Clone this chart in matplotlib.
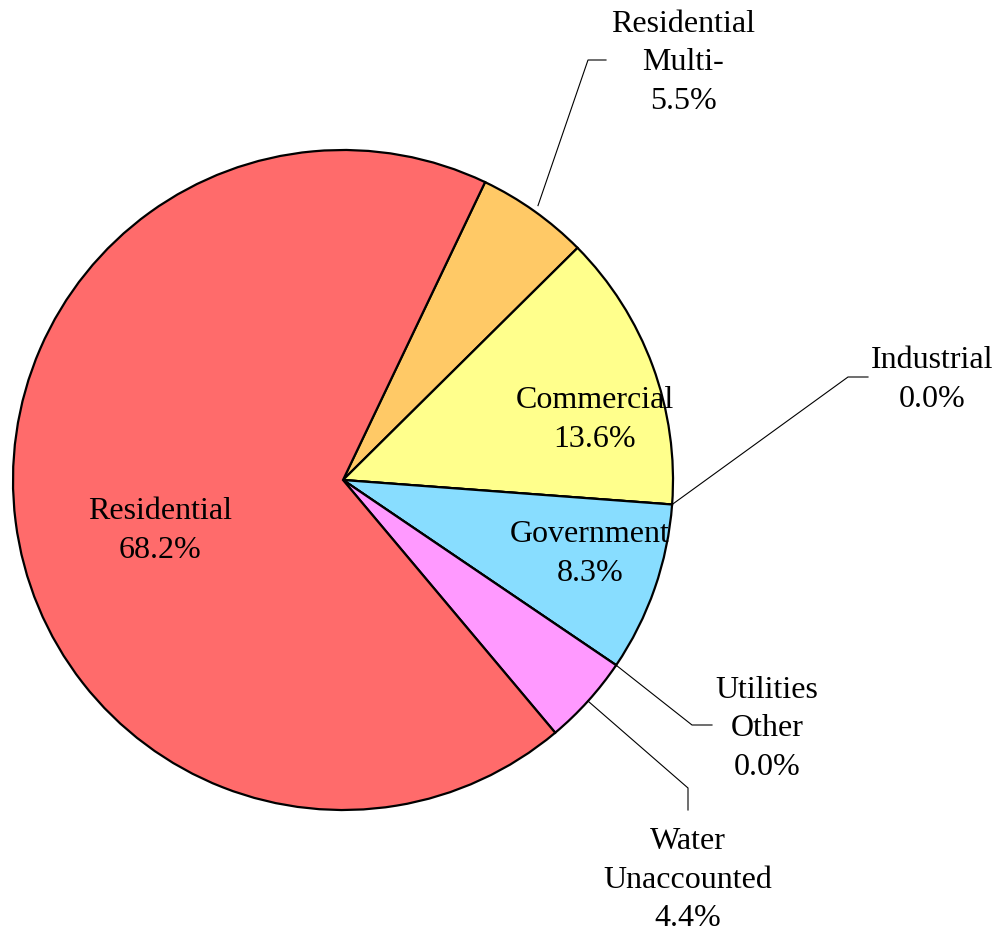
import matplotlib
matplotlib.use("Agg")
import matplotlib.pyplot as plt
import numpy as np

categories = ["Residential\nMulti-", "Commercial", "Industrial", "Government",
              "Utilities\nOther", "Water\nUnaccounted", "Residential"]
values = [5.5, 13.6, 0.0, 8.3, 0.0, 4.4, 68.2]
colors = ["#FFC966", "#FFFF8C", "#FFFFFF", "#88DDFF", "#FFFFFF", "#FF99FF", "#FF6B6B"]

plt.rcParams['font.family'] = ['Liberation Serif', 'DejaVu Serif']

W, H = 1000, 934
fig = plt.figure(figsize=(W / 100, H / 100), dpi=100)
ax = fig.add_axes([0, 0, 1, 1])

cx, cy, R = 343, H - 480, 330
wedges, _ = ax.pie(values, colors=colors, startangle=64.5, counterclock=False,
                   center=(cx, cy), radius=R, frame=True,
                   wedgeprops=dict(edgecolor='black', linewidth=1.6))
ax.set_xlim(0, W)
ax.set_ylim(0, H)
ax.set_aspect('equal')
ax.axis('off')

fs = 23
ls = 1.45
dy = 3
# inside labels: index -> label center (pixels from top-left)
inside = {6: (160, 528), 1: (595, 417), 3: (590, 551)}
for i, (x, y) in inside.items():
    ax.text(x, H - y - dy, f"{categories[i]}\n{values[i]:.1f}%", ha='center', va='center',
            fontsize=fs, linespacing=ls)

# outside labels: index -> (label center, radius factor of start, elbow, end)
outside = {
    0: ((683, 60), 1.02, (588, 60), (606, 60)),
    2: ((932, 377), 1.0, (848, 377), (868, 377)),
    4: ((767, 726), 1.0, (692, 725), (712, 725)),
    5: ((688, 877), 1.0, (688, 788), (688, 810)),
}
for i, ((lx, ly), rf, (ex, ey), (tx, ty)) in outside.items():
    w = wedges[i]
    ang = np.deg2rad((w.theta1 + w.theta2) / 2)
    sx = cx + R * rf * np.cos(ang)
    sy = cy + R * rf * np.sin(ang)
    ax.plot([sx, ex, tx], [sy, H - ey, H - ty], color='black', linewidth=0.8,
            solid_joinstyle='miter')
    ax.text(lx, H - ly - dy, f"{categories[i]}\n{values[i]:.1f}%", ha='center', va='center',
            fontsize=fs, linespacing=ls)

fig.savefig("out.png", dpi=100, facecolor='white')
